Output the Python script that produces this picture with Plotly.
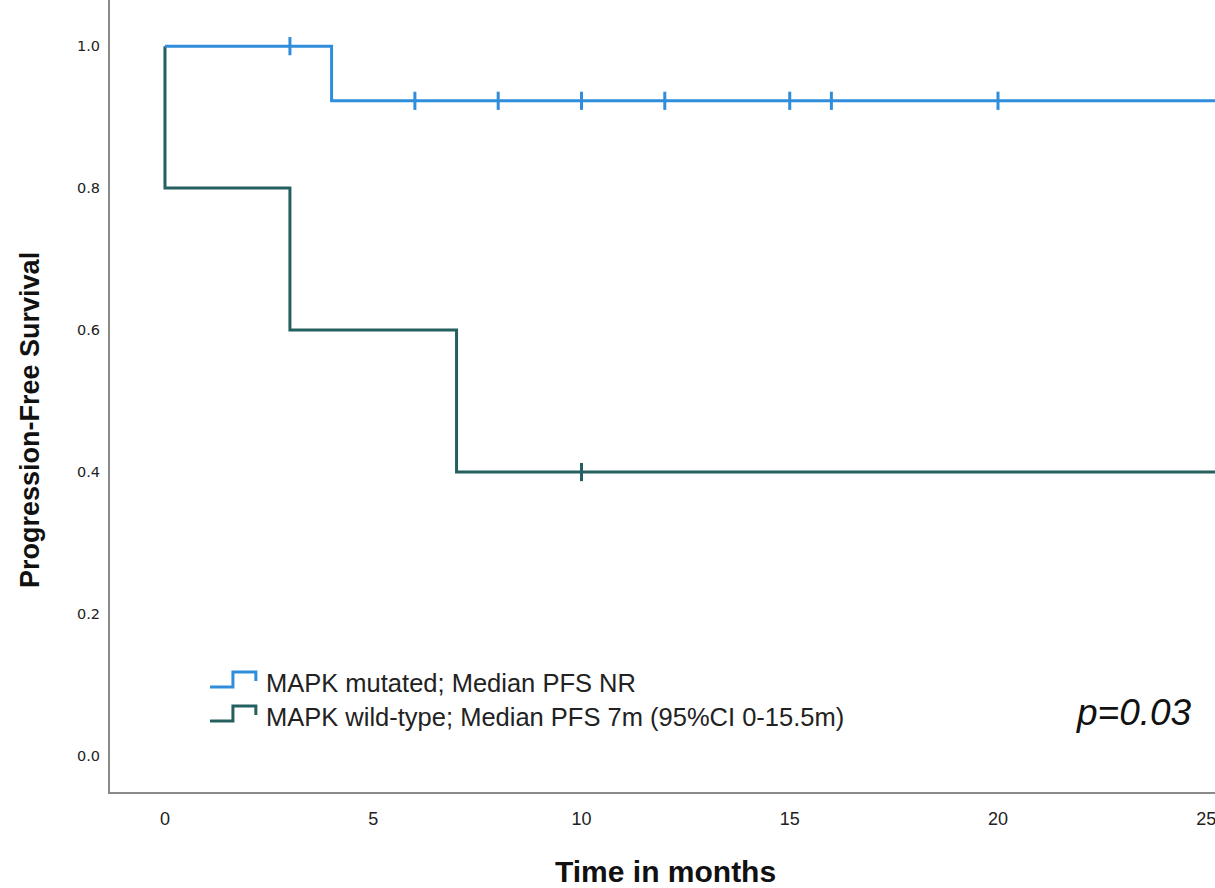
import plotly.graph_objects as go

# Kaplan-Meier step data
mut_time = [0, 4, 4, 25.3]
mut_surv = [1.0, 1.0, 0.923, 0.923]
mut_cens_t = [3, 6, 8, 10, 12, 15, 16, 20]
mut_cens_s = [1.0, 0.923, 0.923, 0.923, 0.923, 0.923, 0.923, 0.923]

wt_time = [0, 0, 3, 3, 7, 7, 25.3]
wt_surv = [1.0, 0.8, 0.8, 0.6, 0.6, 0.4, 0.4]
wt_cens_t = [10]
wt_cens_s = [0.4]

x_ticks = [0, 5, 10, 15, 20, 25]
y_ticks = [0.0, 0.2, 0.4, 0.6, 0.8, 1.0]

legend_texts = ["MAPK mutated; Median PFS NR",
                "MAPK wild-type; Median PFS 7m (95%CI 0-15.5m)"]
p_text = "p=0.03"

blue = "#2f8ddb"
teal = "#24605f"

fig = go.Figure()
fig.add_trace(go.Scatter(x=wt_time, y=wt_surv, mode="lines",
                         line=dict(color=teal, width=3), hoverinfo="skip"))
fig.add_trace(go.Scatter(x=mut_time, y=mut_surv, mode="lines",
                         line=dict(color=blue, width=3), hoverinfo="skip"))
fig.add_trace(go.Scatter(x=mut_cens_t, y=mut_cens_s, mode="markers",
                         marker=dict(symbol="line-ns", size=13,
                                     line=dict(color=blue, width=3))))
fig.add_trace(go.Scatter(x=wt_cens_t, y=wt_cens_s, mode="markers",
                         marker=dict(symbol="line-ns", size=13,
                                     line=dict(color=teal, width=3))))

# custom legend swatches (step icons)
def swatch(y0, color):
    x0 = 0.0905
    w = 0.0415
    hh = 0.019
    path = (f"M {x0} {y0} L {x0 + w*0.5} {y0} L {x0 + w*0.5} {y0 + hh} "
            f"L {x0 + w} {y0 + hh} L {x0 + w} {y0 + hh*0.4}")
    fig.add_shape(type="path", path=path, xref="paper", yref="paper",
                  line=dict(color=color, width=3))

swatch(0.1325, blue)
swatch(0.0895, teal)

for txt, yy in zip(legend_texts, [0.138, 0.095]):
    fig.add_annotation(text=txt, xref="paper", yref="paper", x=0.1395, y=yy,
                       xanchor="left", yanchor="middle", showarrow=False,
                       font=dict(family="Liberation Sans, Arial", size=25.5, color="#222"))

fig.add_annotation(text=f"<i>{p_text}</i>", xref="paper", yref="paper", x=0.9265,
                   y=0.101, xanchor="center", yanchor="middle", showarrow=False,
                   font=dict(family="Liberation Sans, Arial", size=37, color="#111"))

# axis titles
fig.add_annotation(text="<b>Time in months</b>", xref="paper", yref="paper",
                   x=0.5023, y=-0.101, xanchor="center", yanchor="middle",
                   showarrow=False,
                   font=dict(family="Liberation Sans, Arial", size=30, color="#111"))
fig.add_annotation(text="<b>Progression-Free Survival</b>", xref="paper", yref="paper",
                   x=-0.0724, y=0.4697, xanchor="center", yanchor="middle",
                   textangle=-90, showarrow=False,
                   font=dict(family="Liberation Sans, Arial", size=27, color="#111"))

fig.update_layout(
    width=1215, height=888,
    margin=dict(l=110, r=0, t=0, b=96),
    paper_bgcolor="white", plot_bgcolor="white",
    showlegend=False,
    xaxis=dict(range=[-1.32, 25.21], tickvals=x_ticks, ticktext=[str(v) for v in x_ticks],
               showgrid=False, zeroline=False, showline=True, linecolor="#8a8a8a",
               linewidth=2, ticks="", automargin=False, ticklabelstandoff=9,
               ticklabeloverflow="allow",
               tickfont=dict(family="Liberation Sans Narrow, Liberation Sans, Arial", size=18, color="#222")),
    yaxis=dict(range=[-0.0507, 1.065], tickvals=y_ticks, ticktext=[f"{v:.1f}" for v in y_ticks],
               showgrid=False, zeroline=False, showline=True, linecolor="#8a8a8a",
               linewidth=2, ticks="", automargin=False, ticklabelstandoff=5,
               tickfont=dict(family="DejaVu Sans, Verdana", size=14.5, color="#222")),
)

fig.write_html("out.html", config={"displayModeBar": False},
               post_script="document.body.style.margin='0px';")
